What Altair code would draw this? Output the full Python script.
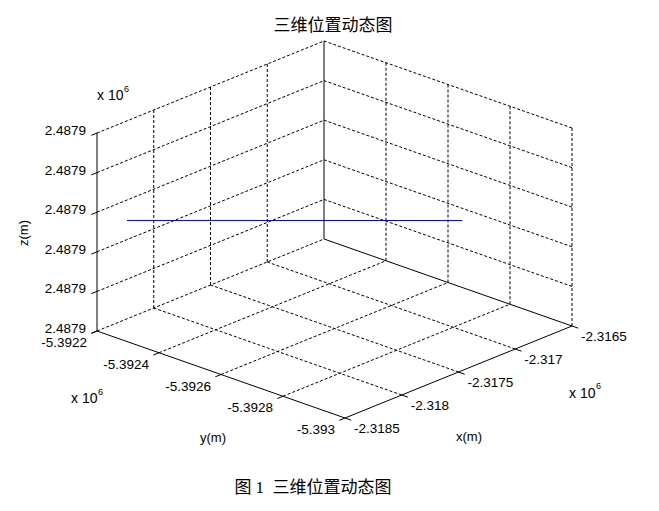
import altair as alt
import pandas as pd

# ---------------- data ----------------
x_ticks = [-2318500, -2318000, -2317500, -2317000, -2316500]
x_labels = ["-2.3185", "-2.318", "-2.3175", "-2.317", "-2.3165"]
y_ticks = [-5393000, -5392800, -5392600, -5392400, -5392200]
y_labels = ["-5.393", "-5.3928", "-5.3926", "-5.3924", "-5.3922"]
z_ticks = [2487880, 2487882, 2487884, 2487886, 2487888, 2487890]
z_labels = ["2.4879", "2.4879", "2.4879", "2.4879", "2.4879", "2.4879"]

traj_x = [-2318400, -2317030]
traj_y = [-5392260, -5392840]
traj_z = [2487885.68, 2487885.68]

title_text = "三维位置动态图"
caption_text = "图\u00a01\u00a0\u00a0三维位置动态图"

# ---------------- 3D view projection (MATLAB default view) ----------------
F = (345.0, 418.0)      # front-bottom corner on screen
EX = (227.0, -92.0)     # full x range on screen
EY = (-248.0, -87.0)    # full y range on screen
EZ = (0.0, -198.0)      # full z range on screen

xmin, xmax = x_ticks[0], x_ticks[-1]
ymin, ymax = y_ticks[0], y_ticks[-1]
zmin, zmax = z_ticks[0], z_ticks[-1]


def proj(x, y, z):
    u = (x - xmin) / (xmax - xmin)
    v = (y - ymin) / (ymax - ymin)
    w = (z - zmin) / (zmax - zmin)
    return (F[0] + u * EX[0] + v * EY[0] + w * EZ[0],
            F[1] + u * EX[1] + v * EY[1] + w * EZ[1])


def seg(p, q):
    a = proj(*p)
    b = proj(*q)
    return {"sx": a[0], "sy": a[1], "sx2": b[0], "sy2": b[1]}


dashed = []
for xt in x_ticks[1:-1]:
    dashed.append(seg((xt, ymax, zmin), (xt, ymax, zmax)))
    dashed.append(seg((xt, ymin, zmin), (xt, ymax, zmin)))
for zt in z_ticks[1:]:
    dashed.append(seg((xmin, ymax, zt), (xmax, ymax, zt)))
    dashed.append(seg((xmax, ymin, zt), (xmax, ymax, zt)))
for yt in y_ticks[:-1]:
    dashed.append(seg((xmax, yt, zmin), (xmax, yt, zmax)))
for yt in y_ticks[1:]:
    dashed.append(seg((xmin, yt, zmin), (xmax, yt, zmin)))

solid = [
    seg((xmin, ymax, zmin), (xmin, ymax, zmax)),
    seg((xmax, ymax, zmin), (xmax, ymax, zmax)),
    seg((xmin, ymin, zmin), (xmin, ymax, zmin)),
    seg((xmin, ymin, zmin), (xmax, ymin, zmin)),
    seg((xmax, ymin, zmin), (xmax, ymax, zmin)),
]
t = 0.025
xr = xmax - xmin
yr = ymax - ymin
for zt in z_ticks:
    solid.append(seg((xmin, ymax, zt), (xmin - t * xr, ymax, zt)))
for yt in y_ticks:
    solid.append(seg((xmin, yt, zmin), (xmin - t * xr, yt, zmin)))
for xt in x_ticks:
    solid.append(seg((xt, ymin, zmin), (xt, ymin - t * yr, zmin)))

dashed_df = pd.DataFrame(dashed)
solid_df = pd.DataFrame(solid)

traj_rows = []
for i, (a, b, c) in enumerate(zip(traj_x, traj_y, traj_z)):
    p = proj(a, b, c)
    traj_rows.append({"i": i, "sx": p[0], "sy": p[1]})
traj_df = pd.DataFrame(traj_rows)

zl = pd.DataFrame([{"sx": proj(xmin, ymax, zt)[0], "sy": proj(xmin, ymax, zt)[1], "t": s}
                   for zt, s in zip(z_ticks, z_labels)])
yl = pd.DataFrame([{"sx": proj(xmin, yt, zmin)[0], "sy": proj(xmin, yt, zmin)[1], "t": s}
                   for yt, s in zip(y_ticks, y_labels)])
xl = pd.DataFrame([{"sx": proj(xt, ymin, zmin)[0], "sy": proj(xt, ymin, zmin)[1], "t": s}
                   for xt, s in zip(x_ticks, x_labels)])

# ---------------- chart ----------------
W, H = 643, 495
XS = alt.Scale(domain=[8, 8 + W])
YS = alt.Scale(domain=[8, 8 + H], reverse=True)
FONT = "Liberation Sans"
CJK = "Noto Sans CJK SC"


def X(f):
    return alt.X(f, type="quantitative", scale=XS, axis=None)


def Y(f):
    return alt.Y(f, type="quantitative", scale=YS, axis=None)


grid = alt.Chart(dashed_df).mark_rule(color="black", strokeWidth=1, strokeDash=[3, 2]).encode(
    x=X("sx"), y=Y("sy"), x2="sx2", y2="sy2")
axes = alt.Chart(solid_df).mark_rule(color="black", strokeWidth=1).encode(
    x=X("sx"), y=Y("sy"), x2="sx2", y2="sy2")
line = alt.Chart(traj_df).mark_line(color="#0000ff", strokeWidth=1).encode(
    x=X("sx"), y=Y("sy"), order="i:Q")

zt_txt = alt.Chart(zl).mark_text(font=FONT, fontSize=13.5, align="right", baseline="middle",
                                 dx=-11, dy=-2, color="black").encode(x=X("sx"), y=Y("sy"), text="t:N")
yt_txt = alt.Chart(yl).mark_text(font=FONT, fontSize=13.5, align="right", baseline="middle",
                                 dx=-10, dy=12, color="black").encode(x=X("sx"), y=Y("sy"), text="t:N")
xt_txt = alt.Chart(xl).mark_text(font=FONT, fontSize=13.5, align="left", baseline="middle",
                                 dx=9, dy=11, color="black").encode(x=X("sx"), y=Y("sy"), text="t:N")


def label(text, px, py, size=13, font=FONT, align="center", angle=0):
    kw = dict(font=font, fontSize=size, align=align, baseline="middle", color="black", text=text)
    if angle:
        kw["angle"] = angle
    return alt.Chart(pd.DataFrame({"a": [0]})).mark_text(**kw).encode(
        x=alt.value(px - 8), y=alt.value(py - 8))


annotations = [
    label(title_text, 333, 26, size=17, font=CJK),
    label(caption_text, 313, 488, size=17, font="'Liberation Serif', 'Noto Sans CJK SC'"),
    label("x 10", 97, 96, size=14, align="left"),
    label("6", 124, 89, size=9, align="left"),
    label("x 10", 71, 399, size=14, align="left"),
    label("6", 98, 392, size=9, align="left"),
    label("x 10", 569, 394, size=14, align="left"),
    label("6", 596, 386, size=9, align="left"),
    label("y(m)", 213, 438, size=13),
    label("x(m)", 469, 437, size=13),
    label("z(m)", 24, 233, size=13, angle=270),
]

chart = alt.layer(grid, axes, line, zt_txt, yt_txt, xt_txt, *annotations).properties(
    width=W, height=H, padding=0, autosize=alt.AutoSizeParams(type="none"),
    background="white",
).configure_view(stroke=None)

chart.save("out.html", embed_options={"renderer": "svg", "actions": False})
